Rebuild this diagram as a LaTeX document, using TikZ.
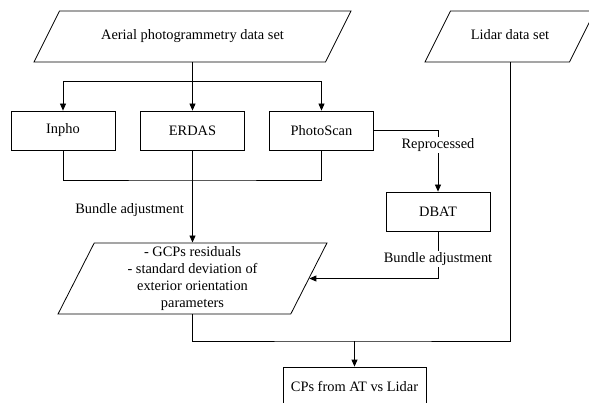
\documentclass[tikz,border=0pt]{standalone}
\usepackage{fontspec}
\setmainfont{Liberation Serif}
\newfontfamily\flowserif{Liberation Serif}
\usepackage{tikz}
\usetikzlibrary{arrows.meta,positioning,shapes.geometric,calc}
\newcommand{\flowfont}{\flowserif\fontsize{14.4}{16.7}\selectfont}
\tikzset{
  procbox/.style={draw,line width=0.8pt,minimum width=104pt,minimum height=39pt,inner sep=2pt,align=center,font=\flowfont},
  databox/.style={draw,line width=0.8pt,trapezium,trapezium left angle=63,trapezium right angle=117,trapezium stretches body,inner xsep=2pt,align=center,font=\flowfont},
  inputbox/.style={databox,text height=10pt,text depth=3pt,inner ysep=18.5pt,minimum height=51pt},
  flowline/.style={line width=0.8pt},
  flowarrow/.style={-{Triangle[length=7pt,width=6pt]},line width=0.8pt},
  steplabel/.style={fill=white,inner sep=1.5pt,font=\flowfont}
}
\begin{document}
\begin{tikzpicture}[x=1pt,y=-1pt]
\useasboundingbox (0,0) rectangle (589,403);
% inputs
\node[inputbox,minimum width=317pt] (aerial) at (192.5,36.5) {Aerial photogrammetry data set};
\node[inputbox,minimum width=170pt] (lidar) at (510,36.5) {Lidar data set};
% software
\node[procbox] (inpho) at (63,130.5) {Inpho};
\node[procbox] (erdas) at (192.5,130.5) {ERDAS};
\node[procbox] (photoscan) at (321.5,130.5) {PhotoScan};
\node[procbox] (dbat) at (438,211.5) {DBAT};
% results
\node[databox,inner ysep=4pt,minimum width=269pt,minimum height=71pt] (gcp) at (192.5,278.5) {- GCPs residuals\\- standard deviation of\\exterior orientation\\parameters};
\node[procbox,minimum width=143pt] (cps) at (354.5,386.5) {CPs from AT vs Lidar};
\coordinate (split) at (192.5,81);
\coordinate (merge) at (192.5,180);
\coordinate (join) at (354.5,341);
% connectors
\draw[flowarrow] (erdas.north |- aerial.south) -- (erdas.north);
\draw[flowarrow] (split) -| (inpho.north);
\draw[flowarrow] (split) -| (photoscan.north);
\draw[flowline] (inpho.south) |- (merge) -| (photoscan.south);
\draw[flowarrow] (erdas.south) -- node[pos=0.65,left=5pt,font=\flowfont]{Bundle adjustment} (erdas.south |- gcp.north);
\draw[flowarrow] (photoscan.east) -| node[steplabel,pos=0.62]{Reprocessed} (dbat.north);
\draw[flowarrow] (dbat.south) |- node[steplabel,pos=0.29]{Bundle adjustment} (gcp.east);
\draw[flowline] (gcp.south -| erdas.south) |- (join) -| (lidar.south -| lidar.center);
\draw[flowarrow] (join) -- (cps.north);
\end{tikzpicture}
\end{document}
